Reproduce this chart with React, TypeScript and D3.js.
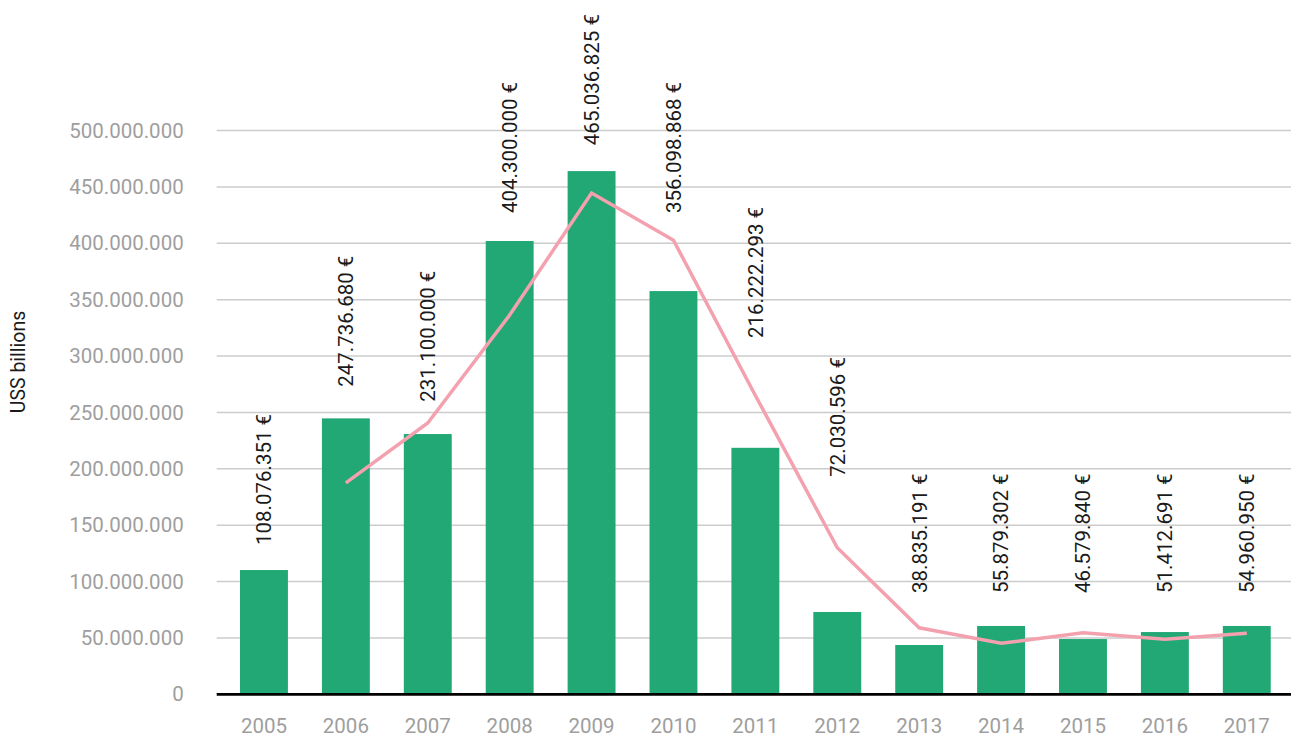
import * as d3 from 'd3';
import { useEffect, useRef } from 'react';

const years = ['2005', '2006', '2007', '2008', '2009', '2010', '2011', '2012', '2013', '2014', '2015', '2016', '2017'];

// bar heights
const barValues = [110.2e6, 244.7e6, 230.8e6, 402e6, 464e6, 357.6e6, 218.6e6, 73e6, 43.7e6, 60.6e6, 49e6, 55.2e6, 60.6e6];

// pink trend line, no point for 2005
const lineValues: (number | null)[] = [null, 187.5e6, 240.6e6, 336.3e6, 444.5e6, 402.7e6, 265e6, 130e6, 59e6, 45.2e6, 54.6e6, 48.8e6, 54.1e6];

// printed value labels
const labelValues = [108076351, 247736680, 231100000, 404300000, 465036825, 356098868, 216222293, 72030596, 38835191, 55879302, 46579840, 51412691, 54960950];

// value at which each label starts
const labelAt = [132.4e6, 272.7e6, 259.4e6, 426.8e6, 487e6, 426.8e6, 316e6, 193e6, 89.8e6, 89.8e6, 89.8e6, 89.8e6, 89.8e6];

const yTicks = [0, 50e6, 100e6, 150e6, 200e6, 250e6, 300e6, 350e6, 400e6, 450e6, 500e6];

const colors = {
  bar: '#21a874',
  line: '#f4a1af',
  grid: '#cccccc',
  axis: '#000000',
  tick: '#9e9e9e',
  text: '#1a1a1a',
};

const locale = d3.formatLocale({ decimal: ',', thousands: '.', grouping: [3], currency: ['', ' €'] });
const fmt = locale.format(',d');

export default function App() {
  const svgRef = useRef<SVGSVGElement>(null);

  useEffect(() => {
    document.body.style.margin = '0';
    const svgEl = svgRef.current;
    if (!svgEl) return;

    const width = 1291;
    const height = 735;
    const left = 216.7;
    const right = 1291;

    const svg = d3.select(svgEl);
    svg.selectAll('*').remove();

    const x = d3
      .scaleBand<string>()
      .domain(years)
      .range([left, right])
      .paddingInner(0.415)
      .paddingOuter(0.266)
      .align(0.535);
    const y = d3.scaleLinear().domain([0, 500e6]).range([694.3, 130.5]);

    const font = 'Roboto, sans-serif';

    // grid
    svg
      .append('g')
      .selectAll('line')
      .data(yTicks.filter((d) => d > 0))
      .join('line')
      .attr('x1', left)
      .attr('x2', right)
      .attr('y1', (d) => y(d))
      .attr('y2', (d) => y(d))
      .attr('stroke', colors.grid)
      .attr('stroke-width', 1.5);

    // y tick labels
    svg
      .append('g')
      .selectAll('text')
      .data(yTicks)
      .join('text')
      .attr('x', 183.7)
      .attr('y', (d) => y(d))
      .attr('dy', '0.35em')
      .attr('text-anchor', 'end')
      .attr('fill', colors.tick)
      .attr('font-family', font)
      .attr('font-size', 20.5)
      .text((d) => fmt(d));

    // y title
    svg
      .append('text')
      .attr('transform', 'translate(25,362) rotate(-90)')
      .attr('text-anchor', 'middle')
      .attr('fill', colors.text)
      .attr('font-family', font)
      .attr('font-size', 19.5)
      .text('USS billions');

    // bars
    svg
      .append('g')
      .selectAll('rect')
      .data(barValues)
      .join('rect')
      .attr('x', (_, i) => x(years[i])!)
      .attr('y', (d) => y(d))
      .attr('width', x.bandwidth())
      .attr('height', (d) => y(0) - y(d))
      .attr('fill', colors.bar);

    // baseline
    svg
      .append('line')
      .attr('x1', left)
      .attr('x2', right)
      .attr('y1', y(0))
      .attr('y2', y(0))
      .attr('stroke', colors.axis)
      .attr('stroke-width', 2.7);

    // trend line
    const line = d3
      .line<number | null>()
      .defined((d) => d != null)
      .x((_, i) => x(years[i])! + x.bandwidth() / 2)
      .y((d) => y(d as number));

    svg
      .append('path')
      .datum(lineValues)
      .attr('d', line)
      .attr('fill', 'none')
      .attr('stroke', colors.line)
      .attr('stroke-width', 3.5);

    // value labels
    svg
      .append('g')
      .selectAll('text')
      .data(labelValues)
      .join('text')
      .attr('transform', (_, i) => {
        const cx = x(years[i])! + x.bandwidth() / 2 + 7.4;
        return `translate(${cx},${y(labelAt[i])}) rotate(-90)`;
      })
      .attr('fill', colors.text)
      .attr('font-family', font)
      .attr('font-size', 20.5)
      .text((d) => `${fmt(d)} €`);

    // x labels
    svg
      .append('g')
      .selectAll('text')
      .data(years)
      .join('text')
      .attr('x', (d) => x(d)! + x.bandwidth() / 2)
      .attr('y', 733)
      .attr('text-anchor', 'middle')
      .attr('fill', colors.tick)
      .attr('font-family', font)
      .attr('font-size', 20.5)
      .text((d) => d);

    svg.attr('width', width).attr('height', height);
  }, []);

  return <svg ref={svgRef} width={1291} height={735} style={{ display: 'block' }} role="img" aria-label="Yearly values chart" />;
}
